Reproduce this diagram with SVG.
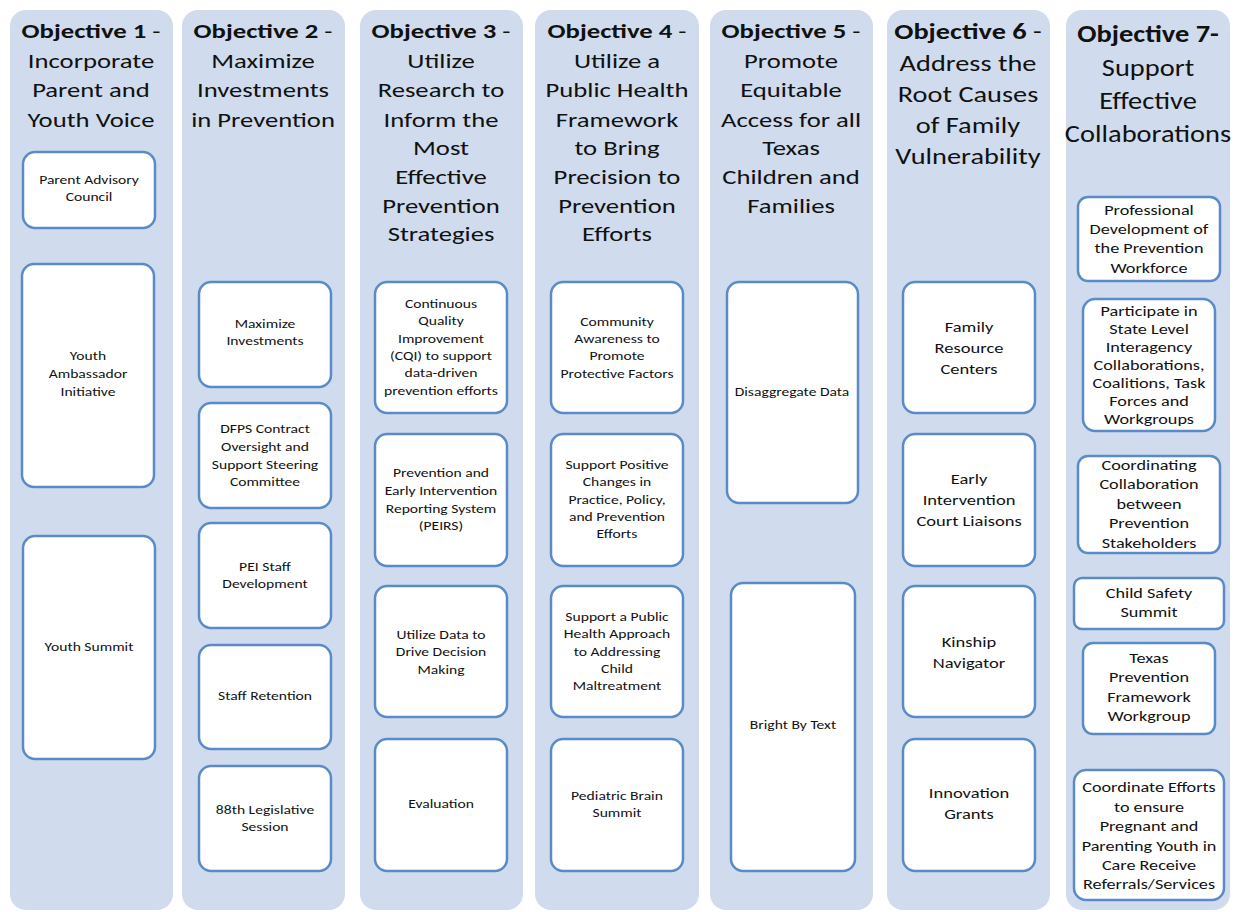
<svg xmlns="http://www.w3.org/2000/svg" width="1239" height="912" viewBox="0 0 1239 912">
<style>
.col{fill:#d0dcee;}
.box{fill:#ffffff;stroke:#5b8bc6;stroke-width:2.5;}
text{font-family:Carlito,Lato,"Liberation Sans",sans-serif;fill:#111;text-anchor:middle;}
.h{font-size:21px;}
.h6{font-size:22.5px;}
.h7{font-size:23.5px;}
.b{font-weight:bold;}
.t{font-size:12px;}
.t6{font-size:14.8px;}
.t7{font-size:14px;}
</style>
<rect width="1239" height="912" fill="#ffffff"/>
<g id="columns">
<rect class="col" x="10" y="10" width="163" height="900" rx="16"/>
<rect class="col" x="182" y="10" width="163" height="900" rx="16"/>
<rect class="col" x="360" y="10" width="163" height="900" rx="16"/>
<rect class="col" x="535" y="10" width="164" height="900" rx="16"/>
<rect class="col" x="710" y="10" width="163" height="900" rx="16"/>
<rect class="col" x="887" y="10" width="163" height="900" rx="16"/>
<rect class="col" x="1066" y="10" width="164" height="900" rx="16"/>
</g>
<g id="headers">
<text class="h" transform="translate(91 0) scale(1.27 1)"><tspan x="0" y="38"><tspan class="b">Objective 1</tspan> -</tspan><tspan x="0" y="68">Incorporate</tspan><tspan x="0" y="97">Parent and</tspan><tspan x="0" y="127">Youth Voice</tspan></text>
<text class="h" transform="translate(263 0) scale(1.27 1)"><tspan x="0" y="38"><tspan class="b">Objective 2</tspan> -</tspan><tspan x="0" y="68">Maximize</tspan><tspan x="0" y="97">Investments</tspan><tspan x="0" y="127">in Prevention</tspan></text>
<text class="h" transform="translate(441 0) scale(1.27 1)"><tspan x="0" y="38"><tspan class="b">Objective 3</tspan> -</tspan><tspan x="0" y="68">Utilize</tspan><tspan x="0" y="97">Research to</tspan><tspan x="0" y="127">Inform the</tspan><tspan x="0" y="155">Most</tspan><tspan x="0" y="184">Effective</tspan><tspan x="0" y="213">Prevention</tspan><tspan x="0" y="241">Strategies</tspan></text>
<text class="h" transform="translate(617 0) scale(1.27 1)"><tspan x="0" y="38"><tspan class="b">Objective 4</tspan> -</tspan><tspan x="0" y="68">Utilize a</tspan><tspan x="0" y="97">Public Health</tspan><tspan x="0" y="127">Framework</tspan><tspan x="0" y="155">to Bring</tspan><tspan x="0" y="184">Precision to</tspan><tspan x="0" y="213">Prevention</tspan><tspan x="0" y="241">Efforts</tspan></text>
<text class="h" transform="translate(791 0) scale(1.27 1)"><tspan x="0" y="38"><tspan class="b">Objective 5</tspan> -</tspan><tspan x="0" y="68">Promote</tspan><tspan x="0" y="97">Equitable</tspan><tspan x="0" y="127">Access for all</tspan><tspan x="0" y="155">Texas</tspan><tspan x="0" y="184">Children and</tspan><tspan x="0" y="213">Families</tspan></text>
<text class="h6" transform="translate(968 0) scale(1.26 1)"><tspan x="0" y="39"><tspan class="b">Objective 6</tspan> -</tspan><tspan x="0" y="71">Address the</tspan><tspan x="0" y="102">Root Causes</tspan><tspan x="0" y="133">of Family</tspan><tspan x="0" y="164">Vulnerability</tspan></text>
<text class="h7" transform="translate(1148 0) scale(1.21 1)"><tspan x="0" y="42" class="b">Objective 7-</tspan><tspan x="0" y="76">Support</tspan><tspan x="0" y="109">Effective</tspan><tspan x="0" y="142">Collaborations</tspan></text>
</g>
<g id="obj1-parent-advisory">
<rect class="box" x="23" y="152" width="132" height="76" rx="12"/>
<text class="t" transform="translate(89 0) scale(1.3 1)"><tspan x="0" y="184">Parent Advisory</tspan><tspan x="0" y="201">Council</tspan></text>
</g>
<g id="obj1-youth-ambassador">
<rect class="box" x="22" y="264" width="132" height="223" rx="12"/>
<text class="t" transform="translate(88 0) scale(1.3 1)"><tspan x="0" y="360">Youth</tspan><tspan x="0" y="378">Ambassador</tspan><tspan x="0" y="396">Initiative</tspan></text>
</g>
<g id="obj1-youth-summit">
<rect class="box" x="23" y="536" width="132" height="223" rx="12"/>
<text class="t" transform="translate(89 0) scale(1.3 1)"><tspan x="0" y="651">Youth Summit</tspan></text>
</g>
<g id="obj2-maximize">
<rect class="box" x="199" y="282" width="132" height="105" rx="12"/>
<text class="t" transform="translate(265 0) scale(1.3 1)"><tspan x="0" y="328">Maximize</tspan><tspan x="0" y="345">Investments</tspan></text>
</g>
<g id="obj2-dfps">
<rect class="box" x="199" y="403" width="132" height="105" rx="12"/>
<text class="t" transform="translate(265 0) scale(1.3 1)"><tspan x="0" y="433">DFPS Contract</tspan><tspan x="0" y="451">Oversight and</tspan><tspan x="0" y="469">Support Steering</tspan><tspan x="0" y="486">Committee</tspan></text>
</g>
<g id="obj2-pei-staff">
<rect class="box" x="199" y="523" width="132" height="105" rx="12"/>
<text class="t" transform="translate(265 0) scale(1.3 1)"><tspan x="0" y="571">PEI Staff</tspan><tspan x="0" y="588">Development</tspan></text>
</g>
<g id="obj2-retention">
<rect class="box" x="199" y="645" width="132" height="104" rx="12"/>
<text class="t" transform="translate(265 0) scale(1.3 1)"><tspan x="0" y="700">Staff Retention</tspan></text>
</g>
<g id="obj2-88th">
<rect class="box" x="199" y="766" width="132" height="105" rx="12"/>
<text class="t" transform="translate(265 0) scale(1.3 1)"><tspan x="0" y="814">88th Legislative</tspan><tspan x="0" y="831">Session</tspan></text>
</g>
<g id="obj3-cqi">
<rect class="box" x="375" y="282" width="132" height="131" rx="12"/>
<text class="t" transform="translate(441 0) scale(1.3 1)"><tspan x="0" y="308">Continuous</tspan><tspan x="0" y="325">Quality</tspan><tspan x="0" y="343">Improvement</tspan><tspan x="0" y="360">(CQI) to support</tspan><tspan x="0" y="377">data-driven</tspan><tspan x="0" y="395">prevention efforts</tspan></text>
</g>
<g id="obj3-peirs">
<rect class="box" x="375" y="434" width="132" height="132" rx="12"/>
<text class="t" transform="translate(441 0) scale(1.3 1)"><tspan x="0" y="477">Prevention and</tspan><tspan x="0" y="495">Early Intervention</tspan><tspan x="0" y="513">Reporting System</tspan><tspan x="0" y="530">(PEIRS)</tspan></text>
</g>
<g id="obj3-utilize-data">
<rect class="box" x="375" y="586" width="132" height="131" rx="12"/>
<text class="t" transform="translate(441 0) scale(1.3 1)"><tspan x="0" y="639">Utilize Data to</tspan><tspan x="0" y="656">Drive Decision</tspan><tspan x="0" y="674">Making</tspan></text>
</g>
<g id="obj3-evaluation">
<rect class="box" x="375" y="739" width="132" height="132" rx="12"/>
<text class="t" transform="translate(441 0) scale(1.3 1)"><tspan x="0" y="808">Evaluation</tspan></text>
</g>
<g id="obj4-community">
<rect class="box" x="551" y="282" width="132" height="131" rx="12"/>
<text class="t" transform="translate(617 0) scale(1.3 1)"><tspan x="0" y="326">Community</tspan><tspan x="0" y="343">Awareness to</tspan><tspan x="0" y="360">Promote</tspan><tspan x="0" y="378">Protective Factors</tspan></text>
</g>
<g id="obj4-support-positive">
<rect class="box" x="551" y="434" width="132" height="132" rx="12"/>
<text class="t" transform="translate(617 0) scale(1.3 1)"><tspan x="0" y="469">Support Positive</tspan><tspan x="0" y="486">Changes in</tspan><tspan x="0" y="504">Practice, Policy,</tspan><tspan x="0" y="521">and Prevention</tspan><tspan x="0" y="538">Efforts</tspan></text>
</g>
<g id="obj4-public-health">
<rect class="box" x="551" y="586" width="132" height="131" rx="12"/>
<text class="t" transform="translate(617 0) scale(1.3 1)"><tspan x="0" y="621">Support a Public</tspan><tspan x="0" y="638">Health Approach</tspan><tspan x="0" y="656">to Addressing</tspan><tspan x="0" y="673">Child</tspan><tspan x="0" y="690">Maltreatment</tspan></text>
</g>
<g id="obj4-pediatric">
<rect class="box" x="551" y="739" width="132" height="132" rx="12"/>
<text class="t" transform="translate(617 0) scale(1.3 1)"><tspan x="0" y="800">Pediatric Brain</tspan><tspan x="0" y="817">Summit</tspan></text>
</g>
<g id="obj5-disaggregate">
<rect class="box" x="727" y="282" width="131" height="221" rx="12"/>
<text class="t" transform="translate(792 0) scale(1.3 1)"><tspan x="0" y="396">Disaggregate Data</tspan></text>
</g>
<g id="obj5-bright">
<rect class="box" x="731" y="583" width="124" height="288" rx="12"/>
<text class="t" transform="translate(793 0) scale(1.3 1)"><tspan x="0" y="729">Bright By Text</tspan></text>
</g>
<g id="obj6-frc">
<rect class="box" x="903" y="282" width="132" height="131" rx="12"/>
<text class="t6" transform="translate(969 0) scale(1.25 1)"><tspan x="0" y="332">Family</tspan><tspan x="0" y="353">Resource</tspan><tspan x="0" y="374">Centers</tspan></text>
</g>
<g id="obj6-court">
<rect class="box" x="903" y="434" width="132" height="132" rx="12"/>
<text class="t6" transform="translate(969 0) scale(1.25 1)"><tspan x="0" y="484">Early</tspan><tspan x="0" y="505">Intervention</tspan><tspan x="0" y="526">Court Liaisons</tspan></text>
</g>
<g id="obj6-kinship">
<rect class="box" x="903" y="586" width="132" height="131" rx="12"/>
<text class="t6" transform="translate(969 0) scale(1.25 1)"><tspan x="0" y="647">Kinship</tspan><tspan x="0" y="668">Navigator</tspan></text>
</g>
<g id="obj6-innovation">
<rect class="box" x="903" y="739" width="132" height="132" rx="12"/>
<text class="t6" transform="translate(969 0) scale(1.25 1)"><tspan x="0" y="798">Innovation</tspan><tspan x="0" y="819">Grants</tspan></text>
</g>
<g id="obj7-professional">
<rect class="box" x="1078" y="197" width="142" height="84" rx="10"/>
<text class="t7" transform="translate(1149 0) scale(1.3 1)"><tspan x="0" y="215">Professional</tspan><tspan x="0" y="234">Development of</tspan><tspan x="0" y="253">the Prevention</tspan><tspan x="0" y="273">Workforce</tspan></text>
</g>
<g id="obj7-participate">
<rect class="box" x="1083" y="299" width="132" height="132" rx="12"/>
<text class="t7" transform="translate(1149 0) scale(1.3 1)"><tspan x="0" y="316">Participate in</tspan><tspan x="0" y="334">State Level</tspan><tspan x="0" y="352">Interagency</tspan><tspan x="0" y="370">Collaborations,</tspan><tspan x="0" y="388">Coalitions, Task</tspan><tspan x="0" y="406">Forces and</tspan><tspan x="0" y="424">Workgroups</tspan></text>
</g>
<g id="obj7-coordinating">
<rect class="box" x="1078" y="456" width="142" height="97" rx="10"/>
<text class="t7" transform="translate(1149 0) scale(1.3 1)"><tspan x="0" y="470">Coordinating</tspan><tspan x="0" y="489">Collaboration</tspan><tspan x="0" y="509">between</tspan><tspan x="0" y="528">Prevention</tspan><tspan x="0" y="548">Stakeholders</tspan></text>
</g>
<g id="obj7-child-safety">
<rect class="box" x="1074" y="578" width="150" height="51" rx="8"/>
<text class="t7" transform="translate(1149 0) scale(1.3 1)"><tspan x="0" y="598">Child Safety</tspan><tspan x="0" y="617">Summit</tspan></text>
</g>
<g id="obj7-texas-framework">
<rect class="box" x="1083" y="643" width="132" height="91" rx="10"/>
<text class="t7" transform="translate(1149 0) scale(1.3 1)"><tspan x="0" y="663">Texas</tspan><tspan x="0" y="682">Prevention</tspan><tspan x="0" y="702">Framework</tspan><tspan x="0" y="721">Workgroup</tspan></text>
</g>
<g id="obj7-pregnant">
<rect class="box" x="1074" y="770" width="150" height="130" rx="12"/>
<text class="t7" transform="translate(1149 0) scale(1.3 1)"><tspan x="0" y="792">Coordinate Efforts</tspan><tspan x="0" y="812">to ensure</tspan><tspan x="0" y="831">Pregnant and</tspan><tspan x="0" y="851">Parenting Youth in</tspan><tspan x="0" y="870">Care Receive</tspan><tspan x="0" y="889">Referrals/Services</tspan></text>
</g>
<g id="connectors"></g>
</svg>
